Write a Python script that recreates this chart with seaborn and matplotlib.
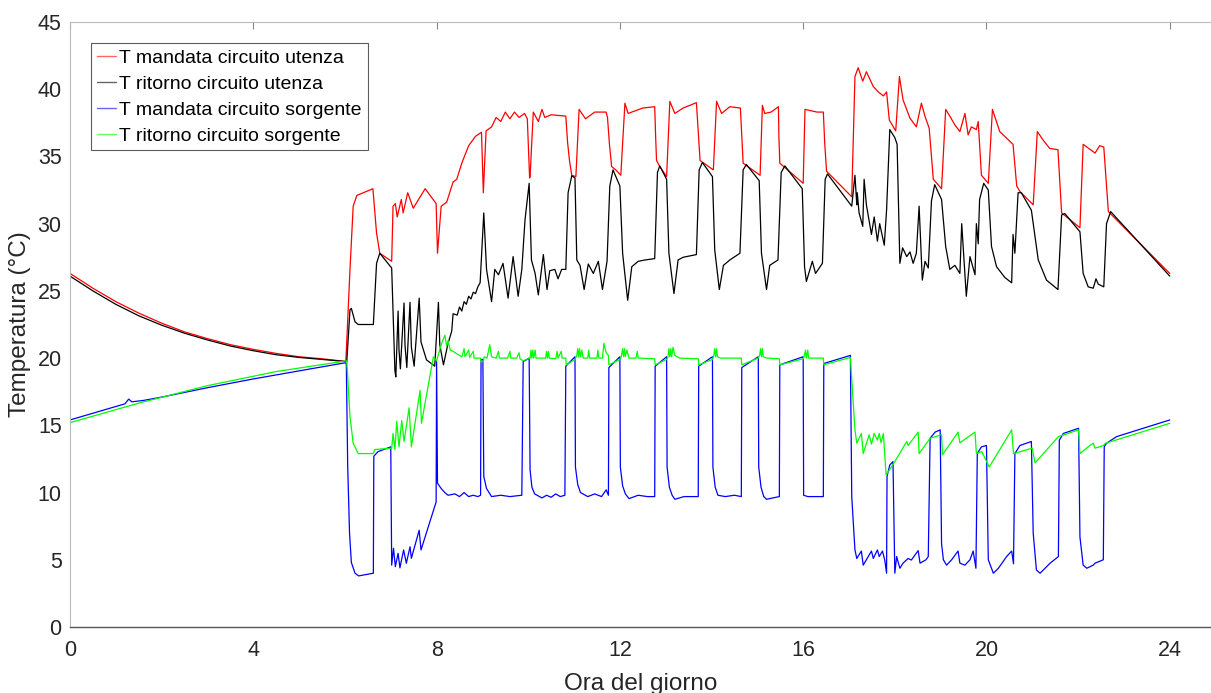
import matplotlib
matplotlib.use("Agg")
import matplotlib.pyplot as plt
import seaborn as sns
import pandas as pd

# ---------------- data (hour of day, temperature °C) ----------------
series_names = ["T mandata circuito utenza", "T ritorno circuito utenza",
                "T mandata circuito sorgente", "T ritorno circuito sorgente"]
series_colors = ["#ff0000", "#000000", "#0000ff", "#00ff00"]

red_h = [0, 0.5, 1.0, 1.5, 2.0, 2.5, 3.0, 3.5, 4.0, 4.5, 5.0, 5.5, 6.02, 6.11, 6.18, 6.26, 6.4, 6.61,
         6.69, 6.76, 7.02, 7.05, 7.1, 7.14, 7.23, 7.27, 7.37, 7.49, 7.75, 7.99, 8.02, 8.1, 8.22, 8.36,
         8.44, 8.55, 8.7, 8.85, 8.98, 9.02, 9.08, 9.2, 9.3, 9.4, 9.5, 9.6, 9.7, 9.8, 9.92, 9.98, 10.03,
         10.04, 10.11, 10.22, 10.3, 10.36, 10.5, 10.82, 10.86, 10.9, 10.95, 11.04, 11.11, 11.25, 11.45, 11.7,
         11.73, 11.77, 11.82, 11.91, 12.02, 12.11, 12.18, 12.5, 12.76, 12.78, 12.8, 12.87, 13.02, 13.09, 13.2, 13.38,
         13.67, 13.71, 13.75, 14.04, 14.11, 14.22, 14.4, 14.63, 14.66, 14.69, 15.06, 15.11, 15.16, 15.3, 15.46, 15.47, 15.49,
         16.0, 16.04, 16.3, 16.44, 16.47, 16.51, 17.06, 17.13, 17.2, 17.3, 17.38, 17.53, 17.64, 17.75, 17.82,
         17.88, 18.02, 18.1, 18.18, 18.33, 18.47, 18.58, 18.66, 18.75, 18.84, 19.02, 19.11, 19.2, 19.31,
         19.42, 19.53, 19.6, 19.67, 19.78, 19.82, 19.89, 20.04, 20.13, 20.29, 20.58, 20.66, 20.73, 21.02,
         21.11, 21.24, 21.38, 21.56, 21.64, 22.04, 22.11, 22.15, 22.37, 22.47, 22.56, 22.66, 24.0]
red_t = [26.3, 25.2, 24.2, 23.35, 22.6, 21.95, 21.45, 21.0, 20.65, 20.35, 20.1, 19.95, 19.75, 26.6, 31.3,
         32.1, 32.3, 32.6, 29.3, 27.8, 27.2, 31.3, 31.5, 30.5, 31.8, 30.8, 32.3, 31.15, 32.6, 31.5, 27.8,
         31.3, 31.6, 33.1, 33.3, 34.5, 35.8, 36.5, 36.8, 32.3, 36.9, 37.2, 37.9, 37.6, 38.3, 37.8, 38.3,
         37.9, 38.2, 37.8, 33.4, 33.5, 38.3, 37.6, 38.5, 37.9, 38.1, 38.0, 36.0, 34.7, 33.6, 33.5, 38.5, 37.8,
         38.3, 38.3, 37.9, 36.0, 34.25, 34.0, 33.6, 38.96, 38.2, 38.6, 38.7, 36.5, 34.7, 34.25, 33.5, 39.1, 38.2, 38.6,
         39.0, 36.8, 34.7, 34.0, 39.1, 38.2, 38.7, 38.6, 36.5, 34.5, 33.6, 38.8, 38.2, 38.3, 38.7, 36.5, 34.5, 33.0, 38.5,
         38.3, 38.3, 36.0, 33.9, 32.0, 40.95, 41.6, 40.6, 41.3, 40.2, 39.8, 39.5, 39.8, 37.7, 36.9, 40.95, 39.2,
         37.85, 37.2, 38.96, 37.97, 37.1, 33.3, 32.6, 38.5, 38.0, 37.35, 36.85, 38.2, 36.6, 37.2, 37.0,
         37.6, 33.6, 33.0, 38.5, 36.85, 35.9, 32.8, 32.4, 31.4, 36.85, 36.2, 35.6, 35.5, 30.8, 29.7, 35.9,
         35.8, 35.25, 35.8, 35.7, 30.9, 26.3]

black_h = [0, 0.5, 1.0, 1.5, 2.0, 2.5, 3.0, 3.5, 4.0, 4.5, 5.0, 5.5, 6.04, 6.11, 6.14, 6.22, 6.29, 6.62,
           6.69, 6.76, 7.02, 7.09, 7.11, 7.16, 7.18, 7.21, 7.29, 7.31, 7.35, 7.42, 7.45, 7.51, 7.62, 7.66, 7.78, 7.96, 8.04, 8.07, 8.15,
           8.25, 8.33, 8.36, 8.45, 8.5, 8.55, 8.6, 8.65, 8.7, 8.75, 8.8, 8.85, 8.9, 8.95, 9.03, 9.09, 9.2,
           9.27, 9.35, 9.45, 9.56, 9.67, 9.78, 9.86, 9.93, 10.02,
           10.07, 10.15, 10.22, 10.33, 10.41, 10.47, 10.58, 10.65, 10.73, 10.82, 10.87, 10.95, 11.02, 11.06,
           11.13, 11.22, 11.31, 11.42, 11.53, 11.62, 11.72, 11.78, 11.85, 12.0, 12.06, 12.17, 12.26, 12.4,
           12.55, 12.76, 12.82, 12.87, 13.02, 13.07, 13.18, 13.27, 13.38, 13.67, 13.73, 13.8, 14.02, 14.07,
           14.17, 14.26, 14.4, 14.62, 14.69, 14.76, 15.04, 15.09, 15.2, 15.27, 15.45, 15.52, 15.6, 15.98,
           16.03, 16.07, 16.2, 16.27, 16.42, 16.48, 16.53, 17.06, 17.13, 17.17, 17.18, 17.22, 17.3, 17.33,
           17.38, 17.49, 17.55, 17.62, 17.67, 17.77, 17.82, 17.89, 18.0, 18.05, 18.11, 18.17, 18.26, 18.33,
           18.4, 18.47, 18.53, 18.6, 18.66, 18.73, 18.8, 18.87, 19.02, 19.11, 19.2, 19.31, 19.42, 19.46,
           19.56, 19.64, 19.75, 19.78, 19.82, 19.85, 19.94, 20.04, 20.11, 20.22, 20.4, 20.55, 20.58, 20.62,
           20.69, 20.76, 20.98, 21.13, 21.31, 21.56, 21.64, 21.71, 22.04, 22.11, 22.22, 22.33, 22.39, 22.44,
           22.56, 22.62, 22.71, 24.0]
black_t = [26.1, 25.0, 24.0, 23.15, 22.45, 21.85, 21.35, 20.9, 20.55, 20.25, 20.05, 19.9, 19.74, 23.6,
           23.7, 22.7, 22.5, 22.5, 27.05, 27.8, 26.7, 19.1, 18.6, 23.5, 20.6, 19.2, 24.1, 21.0, 19.3, 24.15, 20.8, 19.4,
           24.46, 21.2, 19.87, 19.4, 24.15, 21.0, 19.5, 21.1, 22.0, 23.3, 23.2, 23.8, 23.5, 24.2, 24.0, 24.6, 24.4, 24.9,
           24.8, 25.3, 25.6, 30.8, 26.6, 24.2, 26.6, 26.2, 27.05, 24.46, 27.55, 24.6, 26.6, 30.3, 33.0,
           27.3, 26.3, 24.7, 27.7, 25.1, 26.5, 26.6, 25.9, 26.6, 26.6, 32.3, 33.56, 33.4, 27.3,
           26.9, 25.1, 27.0, 26.3, 27.2, 25.1, 27.2, 32.8, 34.0, 32.8, 27.8, 24.3, 26.8, 27.2,
           27.3, 27.4, 33.8, 34.3, 33.3, 27.8, 24.8, 27.3, 27.5, 27.7, 34.0, 34.55, 33.5, 28.05,
           25.1, 26.9, 27.3, 27.8, 34.0, 34.4, 33.2, 27.8, 25.1, 26.9, 27.3, 33.8, 34.3, 32.6,
           26.8, 25.7, 27.2, 26.3, 27.05, 33.3, 33.7, 31.3, 33.6, 31.4, 32.3, 30.8, 29.8, 33.3,
           31.4, 29.2, 30.5, 28.7, 30.0, 28.4, 31.0, 37.0, 36.4, 35.9, 27.05, 28.2, 27.55, 27.9,
           27.05, 27.8, 31.3, 25.8, 27.2, 26.7, 31.7, 32.9, 31.8, 28.3, 26.6, 26.9, 26.3, 30.0,
           24.6, 27.55, 26.2, 30.0, 28.5, 31.8, 33.0, 32.5, 28.3, 26.8, 26.0, 25.6, 29.2, 27.8,
           32.3, 32.3, 31.0, 27.3, 25.8, 25.1, 30.65, 30.75, 29.4, 26.3, 25.3, 25.2, 25.9, 25.5,
           25.3, 30.0, 30.9, 26.1]

blue_h = [0, 0.6, 1.2, 1.28, 1.35, 1.6, 2.0, 3.0, 4.0, 5.0, 6.0, 6.03, 6.06, 6.1, 6.14, 6.22, 6.3, 6.62,
          6.63, 6.72, 7.0, 7.02, 7.06, 7.1, 7.16, 7.2, 7.28, 7.34, 7.42, 7.45, 7.62, 7.66, 7.99, 8.0, 8.02,
          8.1, 8.18, 8.25, 8.4, 8.5, 8.6, 8.7, 8.8, 8.9, 8.96, 8.97, 9.01, 9.03, 9.09, 9.2, 9.4, 9.6, 9.86,
          9.89, 10.02, 10.04, 10.08, 10.14, 10.3, 10.4, 10.5, 10.6, 10.7, 10.8, 10.82, 11.02, 11.03, 11.08,
          11.14, 11.3, 11.45, 11.6, 11.7, 11.75, 11.76, 12.0, 12.01, 12.06, 12.12, 12.2, 12.4, 12.6, 12.76,
          12.77, 13.02, 13.03, 13.08, 13.14, 13.2, 13.4, 13.71, 13.72, 14.02, 14.03, 14.08, 14.14, 14.3,
          14.5, 14.65, 14.66, 15.02, 15.03, 15.08, 15.14, 15.2, 15.48, 15.49, 16.0, 16.01, 16.1, 16.44,
          16.45, 17.03, 17.06, 17.13, 17.17, 17.27, 17.31, 17.42, 17.49, 17.53, 17.62, 17.66, 17.73, 17.78,
          17.82, 17.83, 17.89, 17.96, 18.0, 18.04, 18.11, 18.18, 18.29, 18.36, 18.51, 18.55, 18.68, 18.73,
          18.77, 18.88, 18.99, 19.02, 19.06, 19.13, 19.24, 19.38, 19.42, 19.53, 19.64, 19.71, 19.77, 19.8,
          19.89, 20.0, 20.04, 20.15, 20.26, 20.44, 20.55, 20.59, 20.62, 20.73, 20.98, 21.02, 21.09, 21.17,
          21.39, 21.57, 21.59, 21.68, 22.01, 22.04, 22.11, 22.19, 22.33, 22.37, 22.55, 22.57, 22.62, 22.84,
          24.0]
blue_t = [15.4, 16.0, 16.6, 16.95, 16.75, 16.85, 17.1, 17.8, 18.45, 19.05, 19.65, 19.6, 12.0, 7.0, 4.8,
          4.0, 3.8, 4.0, 12.7, 13.04, 13.4, 4.6, 5.86, 4.49, 5.48, 4.4, 5.73, 4.74, 5.97, 5.11, 7.2, 5.73,
          9.3, 19.74, 10.7, 10.3, 10.0, 9.8, 9.9, 9.7, 10.0, 9.7, 9.8, 9.7, 9.8, 19.9, 19.9, 11.2, 10.3,
          9.7, 9.8, 9.7, 9.8, 19.74, 20.0, 11.7, 10.4, 9.9, 9.6, 9.8, 9.65, 9.9, 9.7, 9.8, 19.4, 20.1, 11.9,
          10.6, 10.0, 9.7, 9.9, 9.7, 10.2, 9.8, 19.3, 20.1, 11.9, 10.5, 9.9, 9.55, 9.8, 9.7, 9.7, 19.4,
          20.1, 11.9, 10.4, 9.8, 9.5, 9.7, 9.7, 19.4, 20.1, 11.9, 10.4, 9.8, 9.7, 9.8, 9.7, 19.3, 20.1,
          11.9, 10.4, 9.7, 9.5, 9.7, 19.5, 20.1, 9.8, 9.7, 9.7, 19.6, 20.2, 9.7, 5.73, 5.1, 5.65, 4.6, 5.24,
          5.65, 5.1, 5.73, 5.24, 5.65, 4.98, 4.0, 11.2, 12.05, 12.3, 4.0, 5.24, 4.37, 4.75, 5.1, 4.98, 5.68,
          4.75, 5.0, 5.24, 14.04, 14.5, 14.66, 6.2, 5.0, 4.6, 5.0, 5.65, 4.75, 4.6, 5.0, 5.65, 4.37, 12.9,
          13.4, 13.5, 5.0, 4.0, 4.37, 5.24, 5.65, 4.7, 12.9, 13.5, 13.8, 6.97, 4.24, 4.0, 4.75, 5.24, 13.9,
          14.4, 14.78, 6.7, 4.6, 4.37, 4.6, 4.75, 5.0, 13.4, 13.67, 14.16, 15.4]

green_h = [0, 1.5, 3.0, 4.5, 6.04, 6.11, 6.18, 6.29, 6.62, 6.65, 7.02, 7.05, 7.09, 7.13, 7.18, 7.24, 7.29,
           7.4, 7.45, 7.64, 7.67, 7.93, 8.0, 8.1, 8.18, 8.22, 8.25, 8.3, 8.36, 8.45, 8.55, 8.6, 8.62, 8.7,
           8.72, 8.8, 8.82, 8.96, 8.97, 9.02, 9.04, 9.1, 9.16, 9.2, 9.3, 9.35, 9.37, 9.55, 9.6, 9.62, 9.75,
           9.8, 9.82, 9.89, 10.02, 10.04, 10.06, 10.08, 10.1, 10.12, 10.15, 10.17, 10.38, 10.4, 10.42, 10.44,
           10.46, 10.6, 10.63, 10.65, 10.72, 10.74, 10.82, 10.83, 11.02, 11.06, 11.08, 11.1, 11.12, 11.14,
           11.17, 11.2, 11.3, 11.32, 11.34, 11.5, 11.52, 11.54, 11.62, 11.65, 11.7, 11.75, 11.76, 12.0,
           12.03, 12.06, 12.08, 12.1, 12.12, 12.15, 12.2, 12.35, 12.38, 12.4, 12.76, 12.77, 13.02, 13.05,
           13.07, 13.09, 13.11, 13.13, 13.16, 13.2, 13.3, 13.71, 13.72, 14.02, 14.05, 14.07, 14.09, 14.11,
           14.13, 14.2, 14.5, 14.65, 14.66, 15.02, 15.05, 15.07, 15.09, 15.11, 15.13, 15.2, 15.48, 15.49,
           16.0, 16.02, 16.05, 16.07, 16.1, 16.12, 16.44, 16.45, 17.03, 17.13, 17.17, 17.27, 17.31, 17.44,
           17.49, 17.55, 17.62, 17.66, 17.7, 17.75, 17.81, 18.0, 18.26, 18.29, 18.51, 18.53, 18.77, 19.02,
           19.04, 19.38, 19.42, 19.75, 19.78, 19.9, 20.06, 20.55, 20.59, 21.0, 21.06, 21.57, 22.01, 22.04,
           22.22, 22.33, 22.37, 22.55, 22.6, 24.0]
green_t = [15.2, 16.65, 17.95, 19.0, 19.8, 15.65, 13.67, 12.9, 12.9, 13.2, 13.3, 14.4, 13.2, 15.3, 13.4,
           15.35, 13.8, 16.3, 13.4, 17.6, 15.15, 20.1, 19.8, 21.0, 21.7, 20.9, 21.3, 20.6, 20.5, 20.3, 20.1,
           20.7, 20.1, 20.6, 20.05, 20.5, 20.0, 20.0, 19.7, 19.8, 20.1, 20.0, 21.0, 20.1, 20.0, 20.5, 20.0,
           20.0, 20.5, 20.0, 20.0, 20.4, 19.95, 19.8, 20.0, 20.0, 20.6, 20.0, 20.6, 20.0, 20.6, 20.0, 20.0,
           20.5, 20.0, 20.5, 20.0, 19.95, 20.5, 20.0, 20.5, 20.0, 20.0, 19.5, 19.9, 20.2, 20.7, 20.1, 20.7,
           20.1, 20.6, 20.0, 20.0, 20.6, 20.0, 20.0, 20.6, 20.0, 20.0, 21.1, 20.4, 20.2, 19.5, 19.9, 20.1,
           20.7, 20.1, 20.7, 20.1, 20.6, 20.0, 20.0, 20.5, 20.0, 19.95, 19.5, 19.9, 20.1, 20.7, 20.1, 20.7,
           20.1, 20.8, 20.2, 20.0, 19.95, 19.5, 19.9, 20.2, 20.7, 20.1, 20.7, 20.1, 20.0, 20.0, 20.0, 19.5,
           20.0, 20.2, 20.7, 20.1, 20.7, 20.1, 20.0, 19.95, 19.5, 19.95, 20.1, 20.6, 20.0, 20.6, 20.0, 20.0,
           19.5, 20.05, 14.66, 13.67, 14.4, 12.9, 14.3, 13.6, 14.4, 13.9, 14.4, 13.7, 14.4, 11.3, 12.3, 13.8,
           13.5, 14.5, 12.9, 14.04, 14.3, 12.8, 14.5, 13.7, 14.5, 12.9, 13.04, 11.9, 14.66, 12.9, 13.3, 12.2,
           14.16, 14.66, 12.9, 13.4, 13.67, 13.3, 13.5, 13.67, 15.15]

x_ticks = [0, 4, 8, 12, 16, 20, 24]
y_ticks = [0, 5, 10, 15, 20, 25, 30, 35, 40, 45]

# ---------------- build long table ----------------
frames = []
for name, hh, tt in zip(series_names, [red_h, black_h, blue_h, green_h],
                        [red_t, black_t, blue_t, green_t]):
    frames.append(pd.DataFrame({"ora": hh, "temp": tt, "serie": name}))
df = pd.concat(frames, ignore_index=True)

sns.set_theme(style="white")
plt.rcParams["font.family"] = ["Liberation Sans", "DejaVu Sans"]

fig = plt.figure(figsize=(12.11, 6.93), dpi=100)
ax = fig.add_axes([70 / 1211, 66 / 693, 1141 / 1211, 605 / 693])

sns.lineplot(data=df, x="ora", y="temp", hue="serie", hue_order=series_names,
             palette=dict(zip(series_names, series_colors)), sort=False, estimator=None,
             linewidth=0.9, ax=ax)

ax.set_xlim(0, 24.9)
ax.set_ylim(0, 45)
ax.set_xticks(x_ticks)
ax.set_yticks(y_ticks)
ax.tick_params(axis="both", direction="in", length=5, width=0.8, colors="#888888",
               labelcolor="#262626", labelsize=15.5, top=True, right=False)
ax.tick_params(axis="y", pad=6)
ax.tick_params(axis="x", pad=9)
for side in ["left", "top"]:
    ax.spines[side].set_color("#bbbbbb")
    ax.spines[side].set_linewidth(0.8)
ax.spines["right"].set_visible(False)
ax.spines["bottom"].set_color("#555555")
ax.spines["bottom"].set_linewidth(1.0)

ax.set_xlabel("Ora del giorno", fontsize=17.5, color="#262626", labelpad=9)
ax.set_ylabel("Temperatura (°C)", fontsize=17.5, color="#262626", labelpad=5)

leg = ax.legend(loc="upper left", bbox_to_anchor=(0.0184, 0.965), fontsize=14,
                frameon=True, fancybox=False, handlelength=1.0, handletextpad=0.15,
                borderaxespad=0, borderpad=0.3, labelspacing=0.43, title=None)
leg.get_frame().set_edgecolor("#333333")
leg.get_frame().set_linewidth(0.8)
for line in leg.get_lines():
    line.set_linewidth(1.0)
    line.set_alpha(0.6)
for t in leg.get_texts():
    t.set_color("#000000")

fig.savefig("out.png", dpi=100)
